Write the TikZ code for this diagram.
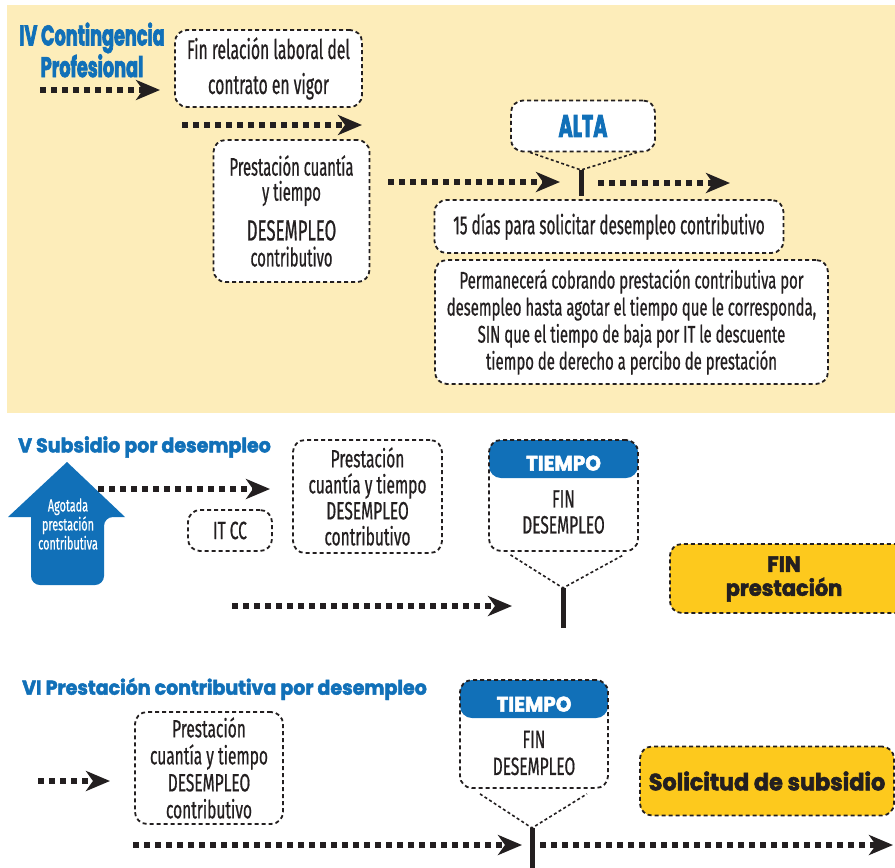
\documentclass[tikz,border=0pt]{standalone}
\usepackage{fontspec}
\usetikzlibrary{arrows.meta,calc}
% narrow text faces and two widths of a heavy geometric display face
\newfontfamily\bodyf[FakeStretch=0.58, FakeBold=0.6]{Fira Sans}
\newfontfamily\bodyw[FakeStretch=0.62, FakeBold=0.6]{Fira Sans}
\newfontfamily\headc[FakeStretch=0.62, FakeBold=2.4]{Poppins}
\newfontfamily\headw[FakeStretch=0.95, FakeBold=2.4]{Poppins}
\definecolor{paper}{HTML}{FDEDBA}
\definecolor{brandblue}{HTML}{1170B8}
\definecolor{gold}{HTML}{FDC91D}
\definecolor{ink}{HTML}{231F20}
\tikzset{
  dbox/.style={draw=ink, line width=1.8pt, dash pattern=on 4pt off 3pt,
    rounded corners=12pt, fill=white, align=center, inner sep=0pt, text=ink},
  goldbox/.style={dbox, fill=gold},
  flow/.style={draw=ink, line width=6.5pt, dash pattern=on 6pt off 5pt,
    -{Stealth[length=24pt,width=20pt,inset=7pt]}},
  tick/.style={draw=ink, line width=5pt},
  pointer/.style={draw=ink, line width=1.6pt, dash pattern=on 3pt off 2.5pt},
  sectitle/.style={text=brandblue, inner sep=0pt, anchor=west},
  tagbox/.style={dbox, path picture={\fill[brandblue]
      (path picture bounding box.north west) rectangle
      ([yshift=-38pt]path picture bounding box.north east);}},
  tagtext/.style={text=white, inner sep=0pt, font=\headw\bfseries\fontsize{21}{21}\selectfont},
  body/.style={inner sep=0pt, align=center, text=ink},
}
\begin{document}
\begin{tikzpicture}[x=1pt,y=-1pt]
\useasboundingbox (0,0) rectangle (895,868);
\fill[white] (0,0) rectangle (895,868);
\fill[paper] (7,5) rectangle (895,413);

% ---------- IV Contingencia Profesional ----------
\node[text=brandblue, inner sep=0pt, align=center,
      font=\headc\bfseries\fontsize{28.5}{30}\selectfont] (titleIV) at (92,50)
      {IV Contingencia\\Profesional};
\node[dbox, minimum width=187pt, minimum height=77pt,
      font=\bodyf\fontsize{27}{35}\selectfont] (fin) at (268.5,68.5)
      {Fin relación laboral del\\contrato en vigor};
\node[dbox, minimum width=156pt, minimum height=142pt,
      font=\bodyf\fontsize{25.5}{25}\selectfont] (prestIV) at (291.5,211)
      {Prestación cuantía\\
       y tiempo\\[13pt]
       \fontsize{29}{30}\selectfont DESEMPLEO\\[1pt]
       contributivo};
\node[dbox, minimum width=144pt, minimum height=51pt,
      text=brandblue, font=\headc\bfseries\fontsize{31}{31}\selectfont] (alta) at (583,126) {ALTA};
\coordinate (altatip) at (581,170);
\coordinate (altafoot) at (581,196);
\draw[pointer] ($(alta.south)+(-53,0)$) -- (altatip) -- ($(alta.south)+(54,0)$);
\draw[tick] (altatip) -- (altafoot);
\node[dbox, minimum width=349pt, minimum height=53pt,
      font=\bodyf\fontsize{26.3}{26}\selectfont] (dias) at (609,226.5)
      {15 días para solicitar desempleo contributivo};
\node[dbox, minimum width=393pt, minimum height=124pt,
      font=\bodyw\fontsize{24}{27}\selectfont] (perm) at (631.5,322)
      {Permanecerá cobrando prestación contributiva por\\
       desempleo hasta agotar el tiempo que le corresponda,\\
       SIN que el tiempo de baja por IT le descuente\\
       tiempo de derecho a percibo de prestación};

\coordinate (a1s) at (40,90);   \coordinate (a1e) at (160,90);
\coordinate (a2s) at (182,125); \coordinate (a2e) at (362,125);
\coordinate (a3s) at (388,182); \coordinate (a3e) at (560,182);
\coordinate (a4s) at (598,183); \coordinate (a4e) at (730,183);
\draw[flow] (a1s) -- (a1e);
\draw[flow] (a2s) -- (a2e);
\draw[flow] (a3s) -- (a3e);
\draw[flow] (a4s) -- (a4e);

% ---------- V Subsidio por desempleo ----------
\node[sectitle, font=\headw\bfseries\fontsize{20}{20}\selectfont] (titleV) at (18,447)
      {V Subsidio por desempleo};
\fill[brandblue, rounded corners=9pt]
  (31,517) -- (31,585) -- (104,585) -- (104,517)
  [sharp corners] -- (125,517) -- (67,462) -- (8,517) -- cycle;
\node[body, text=white, font=\bodyw\fontsize{17.5}{19}\selectfont] (agotada) at (68,524)
      {Agotada\\prestación\\contributiva};
\coordinate (a5s) at (98,489); \coordinate (a5e) at (270,489);
\draw[flow] (a5s) -- (a5e);
\node[dbox, minimum width=84pt, minimum height=41pt,
      font=\bodyw\fontsize{25}{25}\selectfont] (itcc) at (230,530.5) {IT CC};
\node[dbox, minimum width=149pt, minimum height=113pt,
      font=\bodyw\fontsize{25}{26}\selectfont] (prestV) at (367.5,496.5)
      {Prestación\\cuantía y tiempo\\DESEMPLEO\\contributivo};
\node[tagbox, minimum width=149pt, minimum height=111pt] (tiempoV) at (563.5,495.5) {};
\node[tagtext] (tiempoVh) at ([yshift=-24pt]tiempoV.north) {TIEMPO};
\node[body, font=\bodyw\fontsize{25}{26}\selectfont] (finV) at (563.5,512) {FIN\\DESEMPLEO};
\coordinate (vtip) at (563,588);
\coordinate (vfoot) at (563,628);
\draw[pointer] ($(tiempoV.south)+(-53,3)$) -- (vtip) -- ($(tiempoV.south)+(60,3)$);
\draw[tick] (vtip) -- (vfoot);
\coordinate (a6s) at (232,606); \coordinate (a6e) at (512,606);
\draw[flow] (a6s) -- (a6e);
\node[goldbox, minimum width=240pt, minimum height=69pt, anchor=west] (finprest) at (669,578.5) {};
\node[body, font=\headw\bfseries\fontsize{22}{24}\selectfont] (finpresttxt) at (784,579)
      {FIN\\prestación};

% ---------- VI Prestación contributiva por desempleo ----------
\node[sectitle, font=\headw\bfseries\fontsize{20}{20}\selectfont] (titleVI) at (22,689)
      {VI Prestación contributiva por desempleo};
\node[dbox, minimum width=148pt, minimum height=112pt,
      font=\bodyw\fontsize{25}{27}\selectfont] (prestVI) at (209,768)
      {Prestación\\cuantía y tiempo\\DESEMPLEO\\contributivo};
\coordinate (a7s) at (38,781); \coordinate (a7e) at (110,781);
\draw[flow] (a7s) -- (a7e);
\node[tagbox, minimum width=148pt, minimum height=108pt] (tiempoVI) at (534,734) {};
\node[tagtext] (tiempoVIh) at ([yshift=-25pt]tiempoVI.north) {TIEMPO};
\node[body, font=\bodyw\fontsize{25}{27}\selectfont] (finVI) at (534,753) {FIN\\DESEMPLEO};
\coordinate (vitip) at (532,828);
\coordinate (vifoot) at (532,868);
\draw[pointer] ($(tiempoVI.south)+(-54,5)$) -- (vitip) -- ($(tiempoVI.south)+(53,5)$);
\draw[tick] (vitip) -- (vifoot);
\node[goldbox, minimum width=254pt, minimum height=69pt,
      font=\headw\bfseries\fontsize{23.5}{24}\selectfont] (solicitud) at (767,781)
      {Solicitud de subsidio};
\coordinate (a8s) at (133,845); \coordinate (a8e) at (522,845);
\coordinate (a9s) at (540,845); \coordinate (a9e) at (893,845);
\draw[flow] (a8s) -- (a8e);
\draw[flow] (a9s) -- (a9e);
\end{tikzpicture}
\end{document}
